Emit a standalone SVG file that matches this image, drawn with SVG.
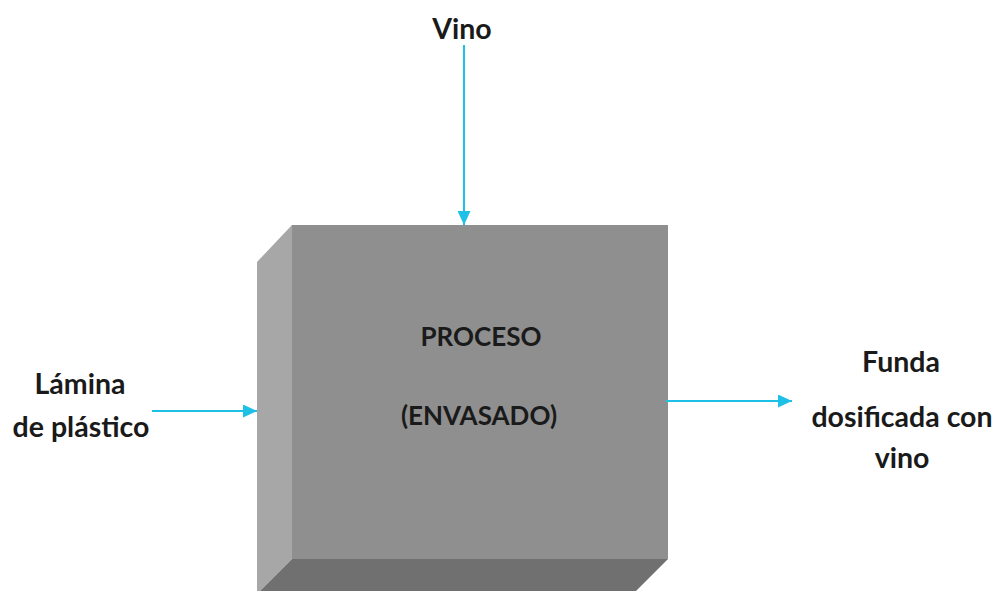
<svg xmlns="http://www.w3.org/2000/svg" width="997" height="591" viewBox="0 0 997 591">
  <style>
    .lbl { font-family: Lato, "Open Sans", "Liberation Sans", sans-serif; font-weight: 700; fill: #1a1a1a; text-anchor: middle; font-size: 28.5px; }
    .caps { font-size: 26px; }
    .flow { stroke: #1fc0e6; stroke-width: 2; fill: none; }
  </style>
  <defs>
    <marker id="head" viewBox="0 0 10 10" refX="10" refY="5" markerWidth="14" markerHeight="13" markerUnits="userSpaceOnUse" orient="auto" preserveAspectRatio="none">
      <path d="M0,0 L10,5 L0,10 z" fill="#1fc0e6"/>
    </marker>
  </defs>
  <rect width="997" height="591" fill="#ffffff"/>

  <!-- process block: beveled box -->
  <g id="proceso">
    <polygon points="257,262 292,225 292,559 257,594" fill="#a7a7a7"/>
    <polygon points="292,559 668,559 633,594 257,594" fill="#707070"/>
    <rect x="292" y="225" width="376" height="334" fill="#8f8f8f"/>
    <text class="lbl caps" x="481" y="346">PROCESO</text>
    <text class="lbl caps" x="479" y="425">(ENVASADO)</text>
  </g>

  <g id="vino">
    <text class="lbl" x="462" y="39" font-size="27">Vino</text>
  </g>

  <g id="lamina">
    <text class="lbl" x="80" y="394">Lámina</text>
    <text class="lbl" x="81" y="437">de plástico</text>
  </g>

  <g id="funda">
    <text class="lbl" x="901" y="372">Funda</text>
    <text class="lbl" x="902" y="427">dosificada con</text>
    <text class="lbl" x="902" y="468">vino</text>
  </g>

  <!-- material flows -->
  <g id="connectors">
    <line class="flow" x1="464" y1="45" x2="464" y2="225" marker-end="url(#head)"/>
    <line class="flow" x1="152" y1="411" x2="257" y2="411" marker-end="url(#head)"/>
    <line class="flow" x1="666" y1="401" x2="792" y2="401" marker-end="url(#head)"/>
  </g>
</svg>
